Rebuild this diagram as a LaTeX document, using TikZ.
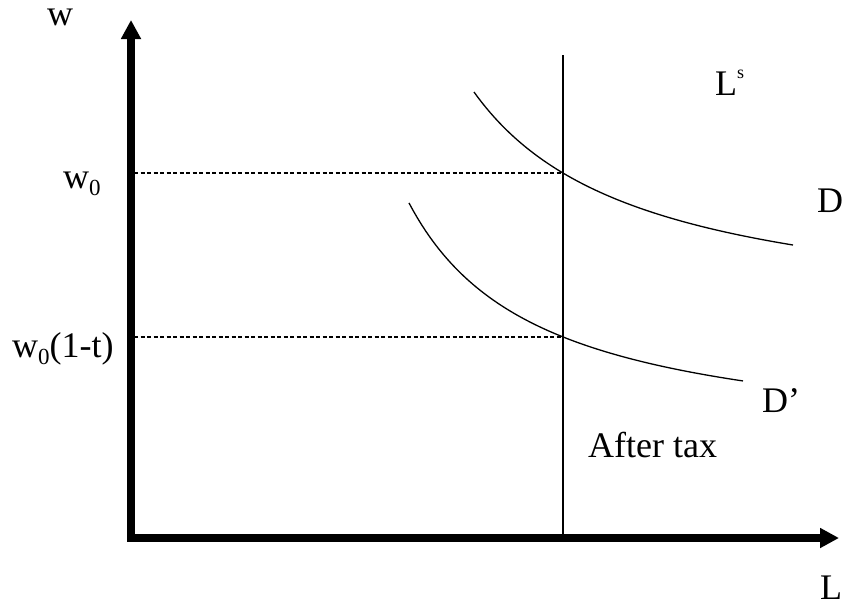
\documentclass[tikz,border=0pt]{standalone}
\usepackage{fontspec}
\setmainfont{Liberation Serif}
\usetikzlibrary{arrows.meta}
\newcommand{\lowidx}[1]{\raisebox{-0.2em}{\fontsize{23}{23}\selectfont #1}}
\newcommand{\upidx}[1]{\raisebox{0.45em}{\fontsize{18}{18}\selectfont #1}}
\begin{document}
\begin{tikzpicture}[x=1pt,y=-1pt,
    axis/.style={line width=7.5pt,line join=miter,
        {Triangle[length=19pt,width=19pt]}-{Triangle[length=19pt,width=19pt]}},
    curve/.style={line width=1.3pt},
    guide/.style={line width=2pt,dash pattern=on 4pt off 2.5pt},
    lbl/.style={inner sep=0pt,anchor=base west,font=\fontsize{36}{40}\selectfont}]
    \useasboundingbox (0,0) rectangle (846,605);
    \coordinate (O) at (131,538);
    \coordinate (ytop) at (131,20);
    \coordinate (xend) at (839,538);
    \coordinate (ls top) at (563,55);
    \coordinate (ls bot) at (563,535);
    \coordinate (e0) at (563,173);
    \coordinate (e1) at (563,337);
    \coordinate (w0) at (134,173);
    \coordinate (w1) at (134,337);

    % axes
    \draw[axis] (ytop) -- (O) -- (xend);
    \draw[curve] (ls top) -- (ls bot);
    \draw[guide] (w0) -- (e0);
    \draw[guide] (w1) -- (e1);

    % demand before and after tax
    \draw[curve] plot[domain=474:793,samples=80] (\x,{325.2-389.87/((\x-306.8)/100)});
    \draw[curve] plot[domain=409:743,samples=80] (\x,{450.5-323.05/((\x-278.5)/100)});

    \node[lbl,text height=18pt] (wlab) at (47,25) {w};
    \node[lbl] (w0lab) at (63,188) {w\lowidx{0}};
    \node[lbl] (w1lab) at (12,357) {w\lowidx{0}(1-t)};
    \node[lbl] (lslab) at (715,95) {L\upidx{s}};
    \node[lbl] (dlab) at (817,212) {D};
    \node[lbl] (d1lab) at (762,412) {D’};
    \node[lbl] (taxlab) at (588,457) {After tax};
    \node[lbl,text depth=0pt] (llab) at (820,599) {L};
\end{tikzpicture}
\end{document}
